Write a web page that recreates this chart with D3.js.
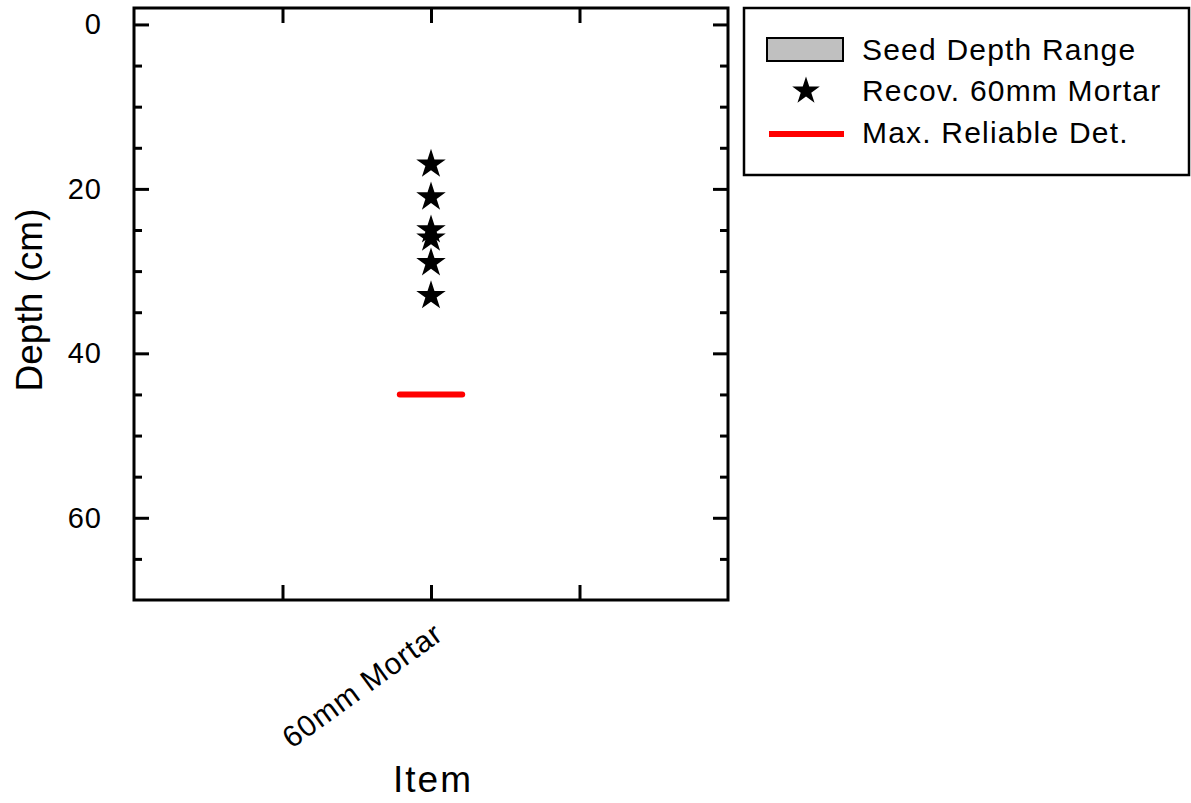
<!DOCTYPE html>
<html>
<head>
<meta charset="utf-8">
<script src="https://cdn.jsdelivr.net/npm/d3@7"></script>
<style>
  html, body { margin: 0; padding: 0; background: #fff; }
  svg { display: block; font-family: "Liberation Sans", Arial, sans-serif; }
</style>
</head>
<body>
<svg id="chart" width="1191" height="803"></svg>
<script>
// ---- data ----
const categories = ["60mm Mortar"];
const recoveredDepths = [17, 21, 25, 26, 29, 33];   // Recov. 60mm Mortar (cm)
const maxReliableDet = [45];                         // Max. Reliable Det. (cm) per category
const seedDepthRange = [];                           // Seed Depth Range (none drawn)
const yMajorTicks = [0, 20, 40, 60];
const yMinorTicks = [5, 10, 15, 25, 30, 35, 45, 50, 55, 65];
const xTicks = [-1, 0, 1];
const legendLabels = ["Seed Depth Range", "Recov. 60mm Mortar", "Max. Reliable Det."];

// ---- layout ----
const svg = d3.select("#chart");
const L = 134, R = 728, T = 8, B = 600;

const x = d3.scaleLinear().domain([-2, 2]).range([L, R]);
const y = d3.scaleLinear().domain([-2, 70]).range([T, B]);

const font = '"Liberation Sans", Arial, sans-serif';

// ---- axes ----
function styleAxis(g) {
  g.select(".domain").remove();
  g.selectAll(".tick line").attr("stroke", "#000").attr("stroke-width", 3);
}
// left
svg.append("g").attr("transform", `translate(${L},0)`)
  .call(d3.axisLeft(y).tickValues(yMajorTicks).tickSize(-15).tickPadding(32).tickFormat(d3.format("d")))
  .call(styleAxis)
  .call(g => g.selectAll(".tick text").attr("font-size", 29).attr("font-family", font)
    .attr("fill", "#000").attr("letter-spacing", "1px").attr("dx", "0"));
svg.append("g").attr("transform", `translate(${L},0)`)
  .call(d3.axisLeft(y).tickValues(yMinorTicks).tickSize(-8).tickFormat(""))
  .call(styleAxis);
// right
svg.append("g").attr("transform", `translate(${R},0)`)
  .call(d3.axisRight(y).tickValues(yMajorTicks).tickSize(-15).tickFormat(""))
  .call(styleAxis);
svg.append("g").attr("transform", `translate(${R},0)`)
  .call(d3.axisRight(y).tickValues(yMinorTicks).tickSize(-8).tickFormat(""))
  .call(styleAxis);
// bottom
svg.append("g").attr("transform", `translate(0,${B})`)
  .call(d3.axisBottom(x).tickValues(xTicks).tickSize(-15).tickFormat(""))
  .call(styleAxis);
// top
svg.append("g").attr("transform", `translate(0,${T})`)
  .call(d3.axisTop(x).tickValues(xTicks).tickSize(-15).tickFormat(""))
  .call(styleAxis);

// frame
svg.append("rect").attr("x", L).attr("y", T).attr("width", R - L).attr("height", B - T)
  .attr("fill", "none").attr("stroke", "#000").attr("stroke-width", 3);

// category labels (rotated)
categories.forEach((c, i) => {
  svg.append("text")
    .attr("transform", `translate(${x(i) + 14},${B + 38}) rotate(-36)`)
    .attr("text-anchor", "end")
    .attr("font-size", 30).attr("font-family", font).attr("letter-spacing", "1px")
    .attr("fill", "#000")
    .text(c);
});

// axis titles
svg.append("text")
  .attr("transform", `translate(42,${(T + B) / 2 - 4}) rotate(-90)`)
  .attr("text-anchor", "middle").attr("font-size", 37).attr("font-family", font)
  .attr("fill", "#000").text("Depth (cm)");
svg.append("text")
  .attr("x", (L + R) / 2 + 2).attr("y", 792)
  .attr("text-anchor", "middle").attr("font-size", 37).attr("font-family", font)
  .attr("letter-spacing", "2px")
  .attr("fill", "#000").text("Item");

// ---- marks ----
const starR = 15.5;
const star = d3.symbol().type(d3.symbolStar).size(starR * starR / 0.8908130915292852);
svg.append("g").selectAll("path.star")
  .data(recoveredDepths)
  .join("path")
  .attr("class", "star")
  .attr("d", star)
  .attr("transform", d => `translate(${x(0)},${y(d)})`)
  .attr("fill", "#000");

const halfW = 0.21;
svg.append("g").selectAll("line.det")
  .data(maxReliableDet)
  .join("line")
  .attr("class", "det")
  .attr("x1", (d, i) => x(i - halfW)).attr("x2", (d, i) => x(i + halfW))
  .attr("y1", d => y(d)).attr("y2", d => y(d))
  .attr("stroke", "#ff0000").attr("stroke-width", 6).attr("stroke-linecap", "round");

// ---- legend ----
const lg = svg.append("g");
lg.append("rect").attr("x", 744).attr("y", 8).attr("width", 445).attr("height", 167)
  .attr("fill", "#fff").attr("stroke", "#000").attr("stroke-width", 2.5);
lg.append("rect").attr("x", 767).attr("y", 38).attr("width", 76).attr("height", 23)
  .attr("fill", "#c0c0c0").attr("stroke", "#000").attr("stroke-width", 2);
const legendStar = d3.symbol().type(d3.symbolStar).size(14.5 * 14.5 / 0.8908130915292852);
lg.append("path").attr("d", legendStar).attr("transform", "translate(806,91)").attr("fill", "#000");
lg.append("line").attr("x1", 769).attr("x2", 844).attr("y1", 134).attr("y2", 134)
  .attr("stroke", "#ff0000").attr("stroke-width", 6).attr("stroke-linecap", "butt");
const legendBaselines = [60, 101, 143];
lg.selectAll("text.lbl").data(legendLabels).join("text")
  .attr("class", "lbl")
  .attr("x", 862).attr("y", (d, i) => legendBaselines[i])
  .attr("font-size", 30).attr("font-family", font).attr("letter-spacing", "1.2px")
  .attr("fill", "#000").text(d => d);
</script>
</body>
</html>
